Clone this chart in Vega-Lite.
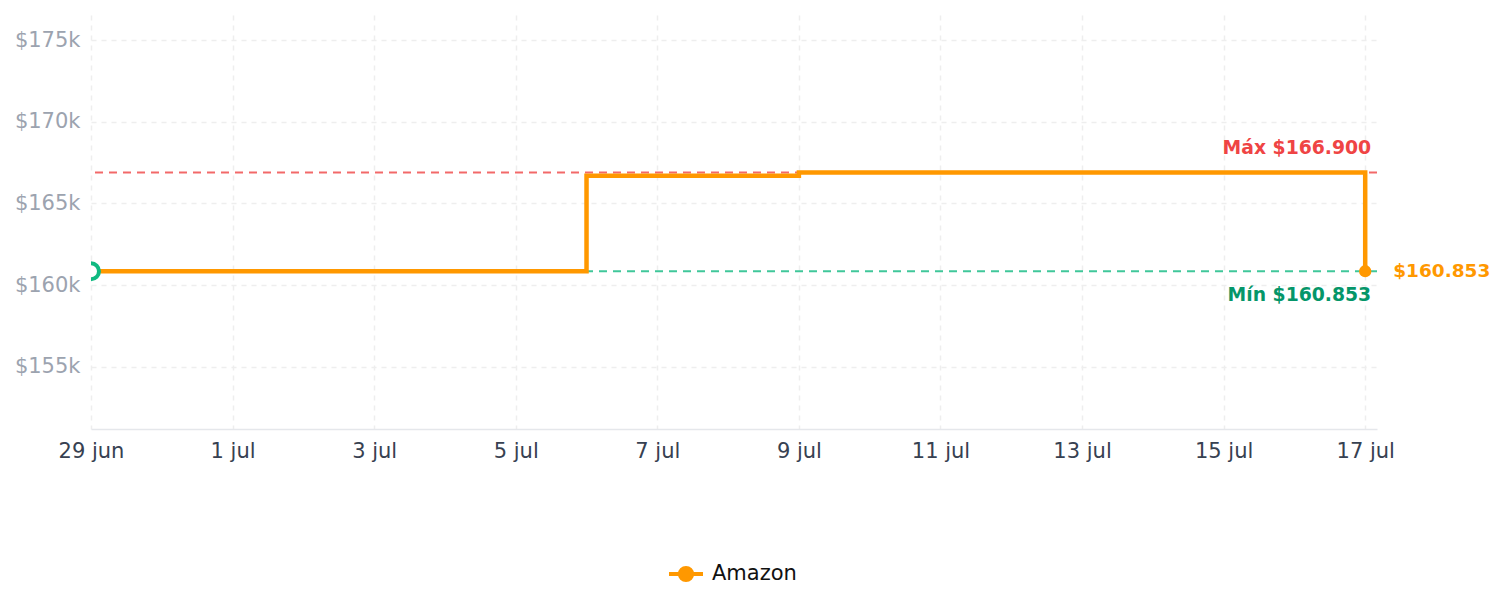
{
  "$schema": "https://vega.github.io/schema/vega-lite/v6.json",
  "autosize": {"type": "none"},
  "width": 1286,
  "height": 414,
  "padding": {"left": 91, "top": 15, "right": 128, "bottom": 178},
  "background": "white",
  "config": {
    "view": {"stroke": null},
    "font": "DejaVu Sans"
  },
  "datasets": {
    "precios": [
      {"fecha": "2025-06-29T00:00:00", "precio": 160853, "tienda": "Amazon", "punto": "inicio"},
      {"fecha": "2025-07-06T00:00:00", "precio": 166700, "tienda": "Amazon", "punto": "medio"},
      {"fecha": "2025-07-09T00:00:00", "precio": 166900, "tienda": "Amazon", "punto": "medio"},
      {"fecha": "2025-07-17T00:00:00", "precio": 160853, "tienda": "Amazon", "punto": "fin"}
    ]
  },
  "encoding": {
    "x": {
      "field": "fecha",
      "type": "temporal",
      "scale": {
        "domain": [
          {"year": 2025, "month": 6, "date": 29},
          {"year": 2025, "month": 7, "date": 17, "hours": 4}
        ]
      },
      "axis": {
        "title": null,
        "values": [
          {"year": 2025, "month": 6, "date": 29},
          {"year": 2025, "month": 7, "date": 1},
          {"year": 2025, "month": 7, "date": 3},
          {"year": 2025, "month": 7, "date": 5},
          {"year": 2025, "month": 7, "date": 7},
          {"year": 2025, "month": 7, "date": 9},
          {"year": 2025, "month": 7, "date": 11},
          {"year": 2025, "month": 7, "date": 13},
          {"year": 2025, "month": 7, "date": 15},
          {"year": 2025, "month": 7, "date": 17}
        ],
        "labelExpr": "timeFormat(datum.value, '%-d') + ' ' + (month(datum.value) == 5 ? 'jun' : 'jul')",
        "labelFont": "DejaVu Sans",
        "labelFontSize": 21,
        "labelColor": "#374151",
        "labelPadding": 11,
        "labelFlush": false,
        "labelOverlap": false,
        "ticks": false,
        "domain": true,
        "domainColor": "#e5e7eb",
        "domainWidth": 1.5,
        "grid": true,
        "gridColor": "#eeeeee",
        "gridDash": [5, 5],
        "gridWidth": 1.5
      }
    },
    "y": {
      "field": "precio",
      "type": "quantitative",
      "scale": {"domain": [151200, 176530], "nice": false, "zero": false},
      "axis": {
        "title": null,
        "values": [155000, 160000, 165000, 170000, 175000],
        "labelExpr": "'$' + format(datum.value / 1000, 'd') + 'k'",
        "labelFont": "DejaVu Sans",
        "labelFontSize": 21,
        "labelColor": "#9ca3af",
        "labelPadding": 11,
        "ticks": false,
        "domain": false,
        "grid": true,
        "gridColor": "#eeeeee",
        "gridDash": [5, 5],
        "gridWidth": 1.5
      }
    }
  },
  "layer": [
    {
      "data": {"values": [{"precio": 166900}]},
      "mark": {"type": "rule", "color": "#ef4444", "opacity": 0.8, "strokeWidth": 2, "strokeDash": [8, 6]},
      "encoding": {"x": null, "y": {"field": "precio", "type": "quantitative"}}
    },
    {
      "data": {"values": [{"precio": 160853}]},
      "mark": {"type": "rule", "color": "#10b981", "opacity": 0.8, "strokeWidth": 2, "strokeDash": [8, 6]},
      "encoding": {"x": null, "y": {"field": "precio", "type": "quantitative"}}
    },
    {
      "data": {"name": "precios"},
      "mark": {"type": "line", "interpolate": "step-after", "strokeWidth": 4.5, "strokeJoin": "miter", "strokeCap": "butt"},
      "encoding": {
        "color": {
          "field": "tienda",
          "type": "nominal",
          "scale": {"domain": ["Amazon"], "range": ["#ff9800"]},
          "legend": {
            "title": null,
            "orient": "none",
            "legendX": 576,
            "legendY": 540,
            "padding": 0,
            "symbolType": "M-1,0H1M0.36,0A0.36,0.36,0,1,1,-0.36,0A0.36,0.36,0,1,1,0.36,0Z",
            "symbolSize": 1156,
            "symbolStrokeWidth": 4,
            "symbolFillColor": "#ff9800",
            "symbolStrokeColor": "#ff9800",
            "labelFont": "DejaVu Sans",
            "labelFontSize": 21,
            "labelColor": "#111111",
            "labelOffset": 7
          }
        }
      }
    },
    {
      "data": {"name": "precios"},
      "transform": [{"filter": "datum.punto == 'inicio'"}],
      "mark": {"type": "point", "shape": "circle", "filled": true, "fill": "white", "stroke": "#10b981", "strokeWidth": 4, "size": 256, "clip": true, "opacity": 1}
    },
    {
      "data": {"name": "precios"},
      "transform": [{"filter": "datum.punto == 'fin'"}],
      "mark": {"type": "point", "shape": "circle", "filled": true, "color": "#ff9800", "size": 150, "opacity": 1}
    },
    {
      "data": {"values": [{"fecha": "2025-07-17T00:00:00", "precio": 166900, "etiqueta": "Máx $166.900"}]},
      "mark": {"type": "text", "align": "right", "baseline": "middle", "dx": 6, "dy": -24, "font": "DejaVu Sans", "fontSize": 18.8, "fontWeight": "bold", "color": "#ef4444"},
      "encoding": {"text": {"field": "etiqueta"}}
    },
    {
      "data": {"values": [{"fecha": "2025-07-17T00:00:00", "precio": 160853, "etiqueta": "Mín $160.853"}]},
      "mark": {"type": "text", "align": "right", "baseline": "middle", "dx": 6, "dy": 24, "font": "DejaVu Sans", "fontSize": 18.8, "fontWeight": "bold", "color": "#059669"},
      "encoding": {"text": {"field": "etiqueta"}}
    },
    {
      "data": {"values": [{"fecha": "2025-07-17T00:00:00", "precio": 160853, "etiqueta": "$160.853"}]},
      "mark": {"type": "text", "align": "left", "baseline": "middle", "dx": 28, "dy": 0, "font": "DejaVu Sans", "fontSize": 18.5, "fontWeight": "bold", "color": "#ff9800"},
      "encoding": {"text": {"field": "etiqueta"}}
    }
  ]
}
